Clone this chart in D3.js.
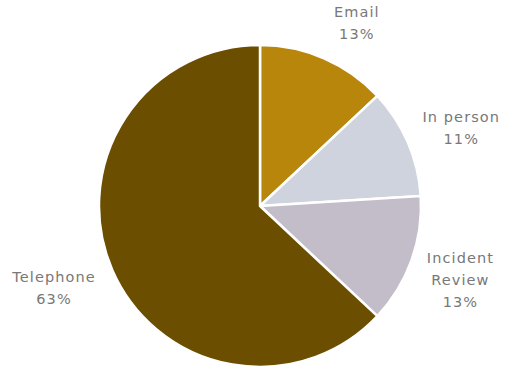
<!DOCTYPE html>
<html>
<head>
<meta charset="utf-8">
<script src="https://cdn.jsdelivr.net/npm/d3@7"></script>
<style>
  html, body { margin: 0; padding: 0; background: #fff; }
  svg { display: block; }
</style>
</head>
<body>
<svg id="chart" width="507" height="370"></svg>
<script>
// Contact channels, in clockwise order from 12 o'clock
const categories = ["Email", "In person", "Incident Review", "Telephone"];
const values = [13, 11, 13, 63];
const colors = ["#b8860b", "#ced3dd", "#c3bdca", "#6b4e00"];
// Label lines per slice
const labelLines = [["Email", "13%"], ["In person", "11%"], ["Incident", "Review", "13%"], ["Telephone", "63%"]];

const svg = d3.select("#chart");
const cx = 260, cy = 206, r = 161;

const pie = d3.pie().sort(null).value(d => d);
const arcs = pie(values);
const arc = d3.arc().innerRadius(0).outerRadius(r);

const g = svg.append("g").attr("transform", `translate(${cx},${cy})`);
g.selectAll("path")
  .data(arcs)
  .join("path")
  .attr("d", arc)
  .attr("fill", (d, i) => colors[i])
  .attr("stroke", "#fff")
  .attr("stroke-width", 2.5)
  .attr("stroke-linejoin", "round");

// Labels sit outside the pie on each slice's mid-angle, nudged clear of the edge
const labelR = r + 30;
const nudges = [[21, -13.7], [26, -8.1], [20.7, -7.7], [-30.7, 0.1]];
const lineH = 22;
const labels = svg.append("g")
  .attr("font-family", "'DejaVu Sans', sans-serif")
  .attr("font-size", 14.5)
  .attr("fill", "#787878")
  .attr("text-anchor", "middle");

arcs.forEach((a, i) => {
  const mid = (a.startAngle + a.endAngle) / 2;
  const lx = cx + Math.sin(mid) * labelR + nudges[i][0];
  const ly = cy - Math.cos(mid) * labelR + nudges[i][1];
  labelLines[i].forEach((t, j) => {
    labels.append("text")
      .attr("x", lx)
      .attr("y", ly + j * lineH)
      .attr("letter-spacing", 1.1)
      .text(t);
  });
});
</script>
</body>
</html>
